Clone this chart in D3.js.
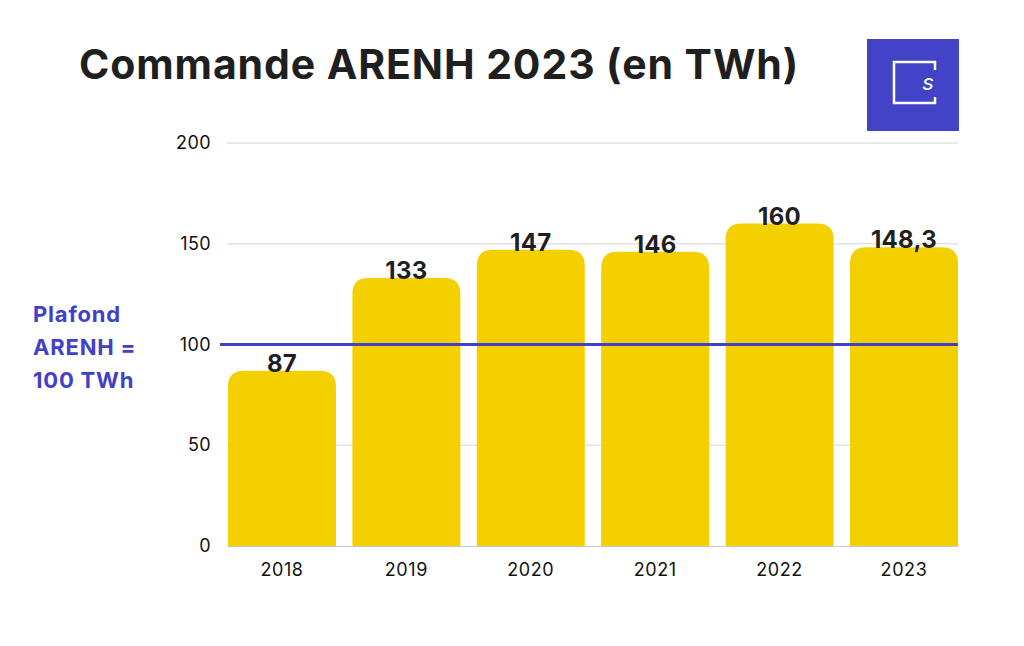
<!DOCTYPE html>
<html>
<head>
<meta charset="utf-8">
<script src="https://cdn.jsdelivr.net/npm/d3@7"></script>
<style>
  body { margin: 0; background: #fff; }
  svg { font-family: Inter, "Noto Sans", sans-serif; }
</style>
</head>
<body>
<div id="chart"></div>
<script>
const years = ['2018', '2019', '2020', '2021', '2022', '2023'];
const values = [87, 133, 147, 146, 160, 148.3];
const valueLabels = ['87', '133', '147', '146', '160', '148,3'];
const yTicks = [0, 50, 100, 150, 200];
const cap = 100;
const capLabel = ['Plafond', 'ARENH =', '100 TWh'];

const width = 1024;
const height = 646;
const purple = '#4141c6';
const yellow = '#f5d000';

const svg = d3.select('#chart')
  .append('svg')
    .attr('width', width)
    .attr('height', height);

const x = d3.scaleBand()
  .domain(years)
  .range([228, 958])
  .paddingInner(0.132)
  .paddingOuter(0);

const y = d3.scaleLinear()
  .domain([0, 200])
  .range([546, 143]);

// title
svg.append('text')
  .attr('x', 79)
  .attr('y', 79)
  .attr('font-size', 41)
  .attr('font-weight', 700)
  .attr('letter-spacing', 0.9)
  .attr('fill', '#1f1f1f')
  .text('Commande ARENH 2023 (en TWh)');

// logo
const logo = svg.append('g').attr('transform', 'translate(867,39)');
logo.append('rect')
  .attr('width', 92).attr('height', 92)
  .attr('fill', '#4343c8');
logo.append('path')
  .attr('d', 'M68,31 V23 H27 V64 H68 V58')
  .attr('fill', 'none')
  .attr('stroke', '#fff')
  .attr('stroke-width', 2.5);
logo.append('text')
  .attr('x', 61).attr('y', 51)
  .attr('text-anchor', 'middle')
  .attr('font-size', 22)
  .attr('font-style', 'italic')
  .attr('fill', '#fff')
  .text('s');

// grid + y ticks
svg.append('g')
  .selectAll('line')
  .data(yTicks.filter(d => d > 0))
  .join('line')
    .attr('x1', 227).attr('x2', 958)
    .attr('y1', d => y(d)).attr('y2', d => y(d))
    .attr('stroke', '#e3e3e3')
    .attr('stroke-width', 1.5);

svg.append('g')
  .selectAll('text')
  .data(yTicks)
  .join('text')
    .attr('x', 211)
    .attr('y', d => y(d) + 6)
    .attr('text-anchor', 'end')
    .attr('font-size', 18)
    .attr('letter-spacing', 0.4)
    .attr('fill', '#111')
    .text(d => d);

// bars with rounded tops
const r = 16;
function barPath(d, i) {
  const x0 = x(years[i]);
  const w = x.bandwidth();
  const y0 = y(d);
  const yb = y(0);
  return `M${x0},${yb} V${y0 + r} Q${x0},${y0} ${x0 + r},${y0} H${x0 + w - r} Q${x0 + w},${y0} ${x0 + w},${y0 + r} V${yb} Z`;
}

svg.append('g')
  .selectAll('path')
  .data(values)
  .join('path')
    .attr('d', barPath)
    .attr('fill', yellow);

// baseline
svg.append('line')
  .attr('x1', 227).attr('x2', 958)
  .attr('y1', y(0) + 0.5).attr('y2', y(0) + 0.5)
  .attr('stroke', '#c8c8d0')
  .attr('stroke-width', 1);

// value labels
svg.append('g')
  .selectAll('text')
  .data(values)
  .join('text')
    .attr('x', (d, i) => x(years[i]) + x.bandwidth() / 2)
    .attr('y', d => y(d) + 1)
    .attr('text-anchor', 'middle')
    .attr('font-size', 24)
    .attr('font-weight', 700)
    .attr('letter-spacing', 0.3)
    .attr('fill', '#1f1f1f')
    .text((d, i) => valueLabels[i]);

// x labels
svg.append('g')
  .selectAll('text')
  .data(years)
  .join('text')
    .attr('x', d => x(d) + x.bandwidth() / 2)
    .attr('y', 576)
    .attr('text-anchor', 'middle')
    .attr('font-size', 18)
    .attr('letter-spacing', 0.6)
    .attr('fill', '#111')
    .text(d => d);

// cap line
svg.append('line')
  .attr('x1', 220).attr('x2', 958)
  .attr('y1', y(cap)).attr('y2', y(cap))
  .attr('stroke', purple)
  .attr('stroke-width', 3);

svg.append('g')
  .selectAll('text')
  .data(capLabel)
  .join('text')
    .attr('x', 33)
    .attr('y', (d, i) => 322 + i * 33)
    .attr('font-size', 22)
    .attr('font-weight', 700)
    .attr('letter-spacing', 0.8)
    .attr('fill', purple)
    .text(d => d);
</script>
</body>
</html>
